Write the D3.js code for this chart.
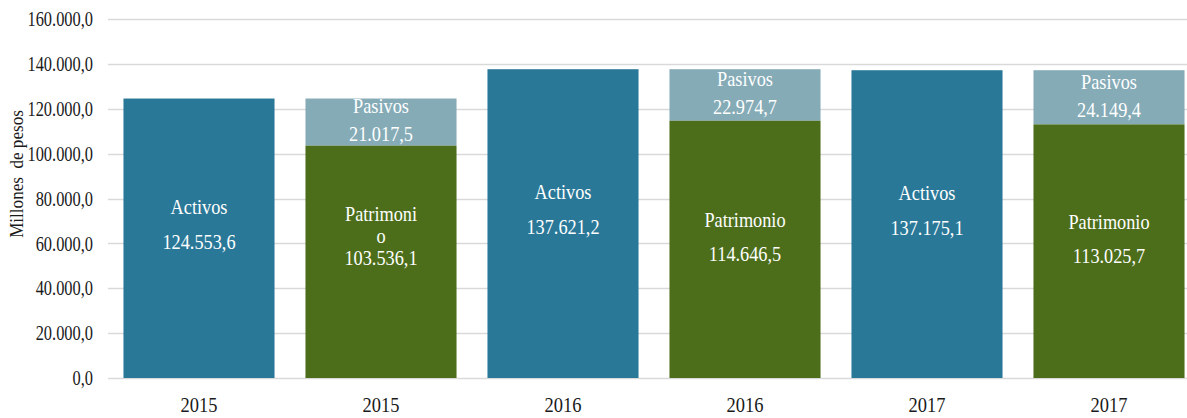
<!DOCTYPE html>
<html>
<head>
<meta charset="utf-8">
<script src="https://cdn.jsdelivr.net/npm/d3@7"></script>
<style>
  body { margin: 0; background: #fff; }
</style>
</head>
<body>
<div id="container"></div>
<script>
// data
const years = ["2015", "2015", "2016", "2016", "2017", "2017"];
const activos = [124553.6, 137621.2, 137175.1];
const patrimonio = [103536.1, 114646.5, 113025.7];
const pasivos = [21017.5, 22974.7, 24149.4];
const patrimonioLabels = ["Patrimoni\no", "Patrimonio", "Patrimonio"];
const yTicks = [0, 20000, 40000, 60000, 80000, 100000, 120000, 140000, 160000];

function init() {
  const width = 1187;
  const height = 418;
  const left = 108;
  const sx = 0.87; // text looks horizontally condensed

  const locale = d3.formatLocale({ decimal: ",", thousands: ".", grouping: [3], currency: ["$", ""] });
  const fmt = locale.format(",.1f");

  const svg = d3.select("#container").append("svg")
    .attr("width", width)
    .attr("height", height)
    .attr("font-family", "'Liberation Serif', 'Times New Roman', serif");

  const x = d3.scaleBand()
    .domain(d3.range(years.length))
    .range([left, 1200])
    .paddingInner(0.17)
    .paddingOuter(0.085);

  const y = d3.scaleLinear()
    .domain([0, 160000])
    .range([378, 19]);

  // gridlines
  svg.append("g")
    .selectAll("line")
    .data(yTicks)
    .join("line")
    .attr("x1", left)
    .attr("x2", width)
    .attr("y1", d => Math.round(y(d)) + 0.5)
    .attr("y2", d => Math.round(y(d)) + 0.5)
    .attr("stroke", "#d9d9d9")
    .attr("stroke-width", 1.3);

  // y tick labels
  svg.append("g")
    .selectAll("text")
    .data(yTicks)
    .join("text")
    .attr("transform", d => `translate(93,${y(d)}) scale(0.8,1)`)
    .attr("dy", "0.35em")
    .attr("text-anchor", "end")
    .attr("font-size", 20.5)
    .attr("fill", "#1a1a1a")
    .text(d => fmt(d));

  svg.append("text")
    .attr("transform", `translate(23,174) rotate(-90) scale(0.9,1)`)
    .attr("text-anchor", "middle")
    .attr("font-size", 19)
    .attr("fill", "#1a1a1a")
    .attr("xml:space", "preserve")
    .text("Millones  de pesos");

  // x labels
  svg.append("g")
    .selectAll("text")
    .data(years)
    .join("text")
    .attr("transform", (d, i) => `translate(${x(i) + x.bandwidth() / 2},412) scale(0.88,1)`)
    .attr("text-anchor", "middle")
    .attr("font-size", 21)
    .attr("fill", "#1a1a1a")
    .text(d => d);

  function label(g, cx, y0, y1, name, value, gap, offset) {
    const lines = name.split("\n").concat([fmt(value)]);
    const wrapped = lines.length > 2;
    const step = wrapped ? 22 : gap;
    const mid = (y0 + y1) / 2 + (wrapped ? offset * 2 : offset);
    const start = mid - step * (lines.length - 1) / 2;
    lines.forEach((t, k) => {
      g.append("text")
        .attr("transform", `translate(${cx},${start + k * step}) scale(${sx},1)`)
        .attr("dy", "0.35em")
        .attr("text-anchor", "middle")
        .attr("font-size", 21)
        .attr("fill", "#fff")
        .text(t);
    });
  }

  const bars = svg.append("g");

  activos.forEach((v, j) => {
    const i = j * 2;
    bars.append("rect")
      .attr("x", x(i))
      .attr("width", x.bandwidth())
      .attr("y", y(v))
      .attr("height", y(0) - y(v))
      .attr("fill", "#2a7898");
    label(bars, x(i) + x.bandwidth() / 2, y(v), y(0), "Activos", v, 35, -14);
  });

  patrimonio.forEach((v, j) => {
    const i = j * 2 + 1;
    const top = v + pasivos[j];
    bars.append("rect")
      .attr("x", x(i))
      .attr("width", x.bandwidth())
      .attr("y", y(top))
      .attr("height", y(v) - y(top))
      .attr("fill", "#85abb7");
    label(bars, x(i) + x.bandwidth() / 2, y(top), y(v), "Pasivos", pasivos[j], 28, -2);
    bars.append("rect")
      .attr("x", x(i))
      .attr("width", x.bandwidth())
      .attr("y", y(v))
      .attr("height", y(0) - y(v))
      .attr("fill", "#4c6e1b");
    label(bars, x(i) + x.bandwidth() / 2, y(v), y(0), patrimonioLabels[j], v, 34, -13);
  });
}

document.addEventListener("DOMContentLoaded", init);
</script>
</body>
</html>
